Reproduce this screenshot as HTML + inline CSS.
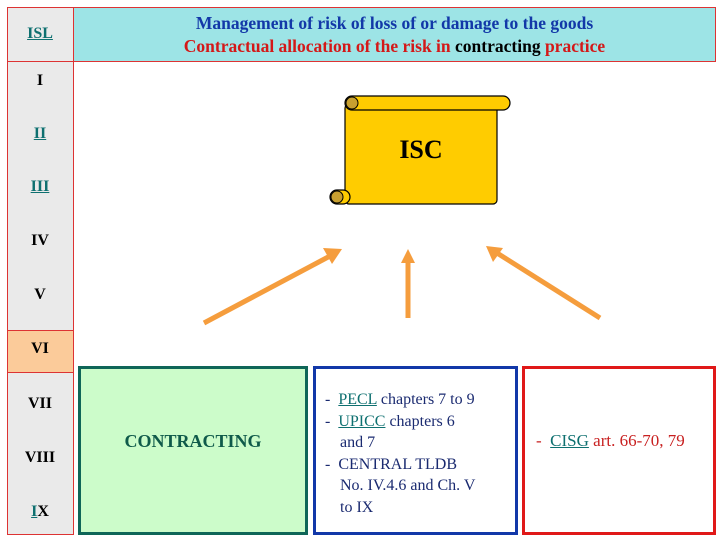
<!DOCTYPE html>
<html><head><style>
body{margin:0;width:720px;height:540px;background:#fff;position:relative;overflow:hidden;font-family:"Liberation Serif",serif;}
.a{position:absolute;box-sizing:border-box;}
.lab{position:absolute;left:7px;width:66px;text-align:center;font-weight:bold;font-size:16px;color:#000;}
.u{color:#0e7070;text-decoration:underline;}
</style></head><body>
<div class="a" style="left:7px;top:7px;width:67px;height:528px;background:#eaeaea;border:1px solid #d33;"></div>
<div class="a" style="left:7px;top:61px;width:67px;height:1px;background:#d33;"></div>
<div class="a" style="left:7px;top:330px;width:67px;height:43px;background:#fbcb9a;border:1px solid #d33;"></div>
<div class="a" style="left:73px;top:7px;width:643px;height:55px;background:#9de4e6;border:1px solid #d33;"></div>
<div class="a" style="left:73px;top:12px;width:643px;text-align:center;font-weight:bold;font-size:17.5px;line-height:23px;color:#1238a8;">Management of risk of loss of or damage to the goods<br><span style="color:#d41818">Contractual allocation of the risk in </span><span style="color:#000">contracting</span><span style="color:#d41818"> practice</span></div>
<div class="lab" style="top:25px;"><span class="u">ISL</span></div>
<div class="lab" style="top:72px;">I</div>
<div class="lab" style="top:125px;"><span class="u">II</span></div>
<div class="lab" style="top:178px;"><span class="u">III</span></div>
<div class="lab" style="top:232px;">IV</div>
<div class="lab" style="top:286px;">V</div>
<div class="lab" style="top:340px;">VI</div>
<div class="lab" style="top:395px;">VII</div>
<div class="lab" style="top:449px;">VIII</div>
<div class="lab" style="top:503px;"><span class="u">I</span>X</div>
<svg class="a" style="left:0;top:0" width="720" height="540">
<rect x="345" y="104" width="152" height="100" rx="4" fill="#ffcc00" stroke="#000" stroke-width="1.2"/>
<rect x="345" y="96" width="165" height="14" rx="7" fill="#ffcc00" stroke="#000" stroke-width="1.2"/>
<circle cx="352" cy="103" r="6" fill="#c8a030" stroke="#000"/>
<rect x="330" y="190" width="20" height="14" rx="7" fill="#ffcc00" stroke="#000" stroke-width="1.2"/>
<circle cx="337" cy="197" r="6" fill="#c8a030" stroke="#000"/>
<text x="421" y="158" text-anchor="middle" font-family="Liberation Serif" font-weight="bold" font-size="26">ISC</text>
<g stroke="#f59d3d" stroke-width="5" fill="#f59d3d">
<line x1="204" y1="323" x2="330" y2="256"/>
<line x1="408" y1="318" x2="408" y2="262"/>
<line x1="600" y1="318" x2="497" y2="253"/>
</g>
<g fill="#f59d3d">
<polygon points="342,249 323,248 332,264"/>
<polygon points="408,249 401,263 415,263"/>
<polygon points="486,246 493,262 503,248"/>
</g>
</svg>
<div class="a" style="left:78px;top:366px;width:230px;height:169px;background:#ccfcca;border:3px solid #0f6658;"></div>
<div class="a" style="left:78px;top:431px;width:230px;text-align:center;font-weight:bold;font-size:18px;color:#0f5a4a;">CONTRACTING</div>
<div class="a" style="left:313px;top:366px;width:205px;height:169px;border:3px solid #1238a8;"></div>
<div class="a" style="left:325px;top:389px;width:185px;font-size:16px;line-height:21.5px;color:#1a2a70;">
<div>- &nbsp;<span class="u">PECL</span> chapters 7 to 9</div>
<div>- &nbsp;<span class="u">UPICC</span> chapters 6</div>
<div style="padding-left:15px">and 7</div>
<div>- &nbsp;CENTRAL TLDB</div>
<div style="padding-left:15px">No. IV.4.6 and Ch. V</div>
<div style="padding-left:15px">to IX</div>
</div>
<div class="a" style="left:522px;top:366px;width:194px;height:169px;border:3px solid #e01818;"></div>
<div class="a" style="left:536px;top:431px;font-size:17px;color:#c82020;">- &nbsp;<span class="u">CISG</span> art. 66-70, 79</div>
</body></html>
